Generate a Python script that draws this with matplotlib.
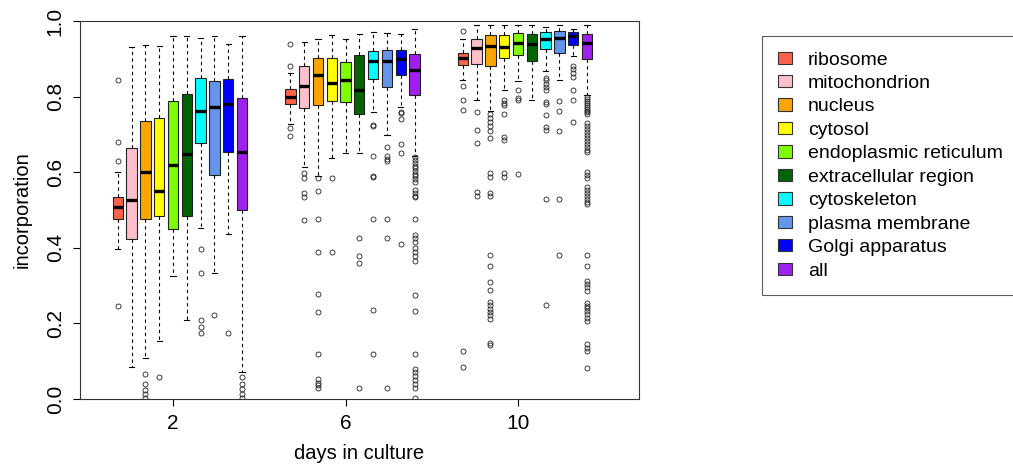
import matplotlib
matplotlib.use('Agg')
import matplotlib.pyplot as plt
from matplotlib.patches import Patch

plt.rcParams['font.family'] = ['Liberation Sans', 'DejaVu Sans']

CATEGORIES = ['ribosome', 'mitochondrion', 'nucleus', 'cytosol', 'endoplasmic reticulum',
              'extracellular region', 'cytoskeleton', 'plasma membrane', 'Golgi apparatus', 'all']
COLORS = ['#FF6347', '#FFC0CB', '#FFA500', '#FFFF00', '#7FFF00',
          '#006400', '#00FFFF', '#6495ED', '#0000FF', '#A020F0']
DAYS = [2, 6, 10]

# five-number summaries per day (one value per category)
WHISLO = {
    2: [0.398, 0.085, 0.109, 0.154, 0.324, 0.210, 0.453, 0.333, 0.437, 0.070],
    6: [0.727, 0.614, 0.590, 0.638, 0.651, 0.651, 0.759, 0.697, 0.773, 0.644],
    10: [0.843, 0.792, 0.763, 0.818, 0.840, 0.790, 0.868, 0.843, 0.907, 0.804],
}
Q1 = {
    2: [0.477, 0.424, 0.475, 0.483, 0.450, 0.484, 0.677, 0.593, 0.654, 0.500],
    6: [0.780, 0.770, 0.777, 0.788, 0.785, 0.753, 0.846, 0.824, 0.858, 0.803],
    10: [0.883, 0.887, 0.880, 0.903, 0.910, 0.895, 0.927, 0.914, 0.936, 0.899],
}
MEDIAN = {
    2: [0.507, 0.527, 0.600, 0.550, 0.619, 0.648, 0.763, 0.773, 0.780, 0.654],
    6: [0.800, 0.829, 0.856, 0.837, 0.843, 0.817, 0.893, 0.893, 0.900, 0.870],
    10: [0.903, 0.929, 0.934, 0.932, 0.943, 0.939, 0.952, 0.956, 0.960, 0.941],
}
Q3 = {
    2: [0.533, 0.663, 0.735, 0.743, 0.788, 0.808, 0.850, 0.840, 0.847, 0.797],
    6: [0.819, 0.882, 0.903, 0.903, 0.892, 0.910, 0.920, 0.922, 0.924, 0.912],
    10: [0.914, 0.951, 0.963, 0.963, 0.967, 0.965, 0.971, 0.974, 0.971, 0.965],
}
WHISHI = {
    2: [0.600, 0.930, 0.936, 0.934, 0.960, 0.960, 0.956, 0.960, 0.939, 0.960],
    6: [0.862, 0.945, 0.952, 0.963, 0.952, 0.966, 0.972, 0.968, 0.965, 0.980],
    10: [0.951, 0.988, 0.988, 0.988, 0.988, 0.988, 0.985, 0.990, 0.980, 0.990],
}
OUTLIERS = {
    2: [
        [0.843, 0.679, 0.629, 0.246],
        [],
        [0.066, 0.040, 0.024, 0.013, 0.003],
        [0.057],
        [],
        [],
        [0.396, 0.333, 0.210, 0.190, 0.174],
        [0.221],
        [0.174],
        [0.058, 0.040, 0.025, 0.013, 0.003],
    ],
    6: [
        [0.938, 0.882, 0.717, 0.696],
        [0.597, 0.585, 0.545, 0.534, 0.474],
        [0.585, 0.549, 0.476, 0.388, 0.277, 0.231, 0.120, 0.052, 0.043, 0.037, 0.030],
        [0.585, 0.388],
        [],
        [0.425, 0.377, 0.360, 0.030],
        [0.726, 0.722, 0.643, 0.591, 0.587, 0.476, 0.235, 0.120],
        [0.667, 0.643, 0.636, 0.630, 0.476, 0.425, 0.030],
        [0.760, 0.756, 0.740, 0.674, 0.651, 0.410],
        [0.640, 0.632, 0.624, 0.617, 0.610, 0.603, 0.596, 0.589, 0.582, 0.575,
         0.552, 0.545, 0.538, 0.533, 0.475, 0.435, 0.425, 0.414, 0.400, 0.388,
         0.377, 0.366, 0.276, 0.233, 0.119, 0.080, 0.070, 0.060, 0.050, 0.040,
         0.030, 0.003],
    ],
    10: [
        [0.974, 0.828, 0.792, 0.765, 0.127, 0.085],
        [0.758, 0.712, 0.677, 0.548, 0.538],
        [0.755, 0.744, 0.732, 0.721, 0.709, 0.691, 0.598, 0.587, 0.545, 0.536,
         0.382, 0.353, 0.309, 0.289, 0.257, 0.248, 0.239, 0.230, 0.221, 0.212,
         0.147, 0.143],
        [0.792, 0.784, 0.777, 0.755, 0.693, 0.686, 0.598, 0.587],
        [0.818, 0.797, 0.792, 0.596],
        [],
        [0.850, 0.843, 0.834, 0.825, 0.818, 0.785, 0.779, 0.750, 0.719, 0.712,
         0.528, 0.249],
        [0.788, 0.763, 0.708, 0.528, 0.382],
        [0.880, 0.872, 0.863, 0.852, 0.818, 0.792, 0.733],
        [0.798, 0.793, 0.788, 0.783, 0.778, 0.773, 0.768, 0.763, 0.758, 0.753,
         0.730, 0.722, 0.714, 0.706, 0.698, 0.690, 0.682, 0.674, 0.666, 0.658,
         0.653, 0.600, 0.592, 0.584, 0.562, 0.553, 0.545, 0.537, 0.530, 0.522,
         0.515, 0.382, 0.353, 0.313, 0.304, 0.295, 0.286, 0.255, 0.247, 0.240,
         0.232, 0.224, 0.215, 0.207, 0.146, 0.136, 0.127, 0.082],
    ],
}

STEP = 0.32   # distance between neighbouring boxes (x units)
WIDTH = 0.24

fig = plt.figure(figsize=(10.13, 4.71), dpi=100)
ax = fig.add_axes([0.079, 0.153, 0.5518, 0.8025])

for day in DAYS:
    for k, cat in enumerate(CATEGORIES):
        st = dict(whislo=WHISLO[day][k], q1=Q1[day][k], med=MEDIAN[day][k],
                  q3=Q3[day][k], whishi=WHISHI[day][k], fliers=OUTLIERS[day][k])
        ax.bxp([st], positions=[day + (k - 4) * STEP], widths=WIDTH,
               patch_artist=True, manage_ticks=False,
               boxprops=dict(facecolor=COLORS[k], edgecolor='#222222', linewidth=0.8),
               medianprops=dict(color='black', linewidth=2.4, solid_capstyle='butt'),
               whiskerprops=dict(color='black', linewidth=0.8, linestyle=(0, (3, 3))),
               capprops=dict(color='black', linewidth=0.8),
               capwidths=WIDTH * 0.5,
               flierprops=dict(marker='o', markersize=3.6, markerfacecolor='none',
                               markeredgecolor='#222222', markeredgewidth=0.6))

ax.set_xlim(-0.157, 12.806)
ax.set_ylim(0, 1)
ax.set_xticks(DAYS)
ax.set_xticklabels([str(d) for d in DAYS])
ax.set_yticks([0.0, 0.2, 0.4, 0.6, 0.8, 1.0])
ax.set_yticklabels(['0.0', '0.2', '0.4', '0.6', '0.8', '1.0'], rotation=90, va='center')
ax.tick_params(direction='out', length=5, width=0.8, labelsize=15, pad=6)
for s in ax.spines.values():
    s.set_linewidth(0.8)
    s.set_color('#333333')
ax.set_xlabel('days in culture', fontsize=14.5, labelpad=8)
ax.set_ylabel('incorporation', fontsize=14.5, labelpad=10)

handles = [Patch(facecolor=c, edgecolor='#333333', linewidth=0.8, label=n)
           for c, n in zip(COLORS, CATEGORIES)]
leg = fig.legend(handles=handles, loc='upper left', bbox_to_anchor=(762 / 1013, 1 - 36 / 471),
                 borderaxespad=0, fontsize=14, frameon=True, fancybox=False,
                 handlelength=0.75, handleheight=0.6, handletextpad=0.8,
                 labelspacing=0.33, borderpad=0.8)
leg.get_frame().set_edgecolor('#333333')
leg.get_frame().set_linewidth(0.8)

fig.savefig('out.png', dpi=100)
